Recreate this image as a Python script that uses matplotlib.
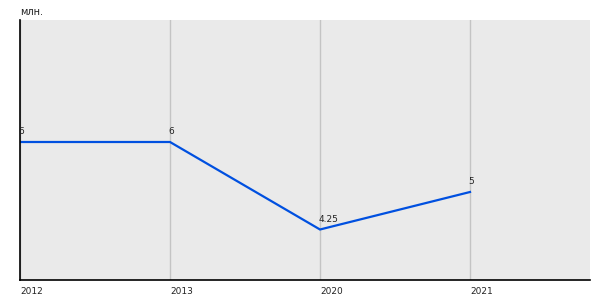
import matplotlib
matplotlib.use("Agg")
import matplotlib.pyplot as plt

years = ["2012", "2013", "2020", "2021"]
values = [6, 6, 4.25, 5]
labels = ["6", "6", "4.25", "5"]

fig = plt.figure(figsize=(6, 3), dpi=100)
ax = fig.add_axes((20 / 600, 20 / 300, 570 / 600, 260 / 300))
ax.set_facecolor("#eaeaea")

x = list(range(len(years)))
ax.plot(x, values, color="#0050e0", lw=1.6, solid_joinstyle="miter")
for xi, v, t in zip(x, values, labels):
    ax.annotate(t, (xi, v), xytext=(-1, 4), textcoords="offset points",
                ha="left", va="bottom", fontsize=6.5, color="#222222")

ax.set_xlim(0, 3.8)
ax.set_ylim(3.24, 8.44)
ax.set_xticks(x)
ax.set_xticklabels(years, ha="left", fontsize=6.5, color="#222222")
ax.tick_params(axis="x", length=0, pad=5)
for lbl in ax.get_xticklabels():
    lbl.set_x(lbl.get_position()[0])
ax.set_yticks([])
ax.grid(axis="x", color="#c4c4c4", lw=1)
ax.set_axisbelow(True)
for s in ("top", "right"):
    ax.spines[s].set_visible(False)
for s in ("left", "bottom"):
    ax.spines[s].set_color("black")
    ax.spines[s].set_linewidth(1.2)

fig.text(20 / 600, 1 - 12 / 300, "млн.", fontsize=7, color="#222222",
         ha="left", va="center")

fig.savefig("out.png", dpi=100)
